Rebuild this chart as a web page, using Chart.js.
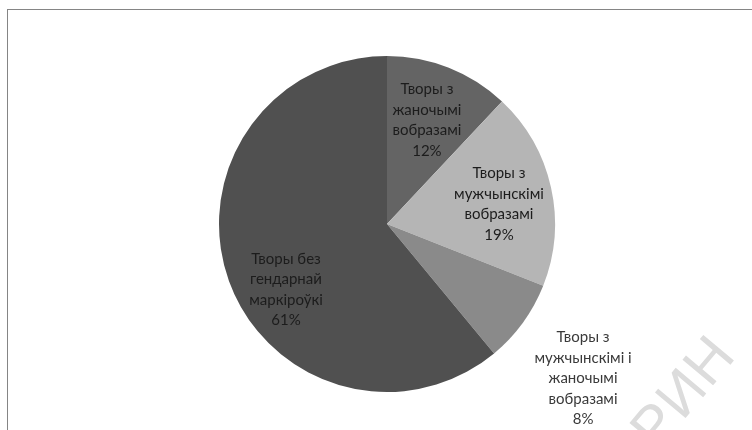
<!DOCTYPE html>
<html>
<head>
<meta charset="utf-8">
<script src="https://cdn.jsdelivr.net/npm/chart.js@4.4.0/dist/chart.umd.min.js"></script>
<style>
  html, body { margin: 0; padding: 0; background: #fff; }
  #wrap { position: relative; width: 752px; height: 430px; overflow: hidden; }
  #frame { position: absolute; left: 7px; top: 9px; width: 800px; height: 500px;
           border-top: 1px solid #858585; border-left: 1px solid #858585; }
  #wm { position: absolute; left: 664px; top: 400px; font-family: "Liberation Sans", sans-serif;
        font-weight: normal; font-size: 58px; line-height: 58px; color: #dcdcdc; transform: rotate(-50deg);
        transform-origin: left bottom; letter-spacing: 1px; white-space: nowrap; }
  canvas { position: absolute; left: 0; top: 0; }
</style>
</head>
<body>
<div id="wrap">
  <div id="frame"></div>
  <div id="wm">РИН</div>
  <canvas id="c" width="752" height="430"></canvas>
</div>
<script>
const categories = [
  ["Творы з", "жаночымі", "вобразамі"],
  ["Творы з", "мужчынскімі", "вобразамі"],
  ["Творы з", "мужчынскімі і", "жаночымі", "вобразамі"],
  ["Творы без", "гендарнай", "маркіроўкі"]
];
const values = [12, 19, 8, 61];
const percentLabels = ["12%", "19%", "8%", "61%"];
const colors = ["#646464", "#b5b5b5", "#8a8a8a", "#505050"];

// label placement (radius fraction, angle offset in degrees)
const labelPlace = [
  { f: 0.663, off: -0.6 },
  { f: 0.677, off: 2.5 },
  { f: 1.485, off: 2.2 },
  { f: 0.717, off: -13.2 }
];

const labelPlugin = {
  id: 'sliceLabels',
  afterDatasetsDraw(chart) {
    const ctx = chart.ctx;
    const meta = chart.getDatasetMeta(0);
    ctx.save();
    ctx.font = '15px Lato, "Open Sans", sans-serif';
    ctx.textAlign = 'center';
    ctx.textBaseline = 'middle';
    const lh = 20.5;
    meta.data.forEach((arc, i) => {
      const p = arc.getProps(['x', 'y', 'startAngle', 'endAngle', 'outerRadius'], true);
      const mid = (p.startAngle + p.endAngle) / 2 + labelPlace[i].off * Math.PI / 180;
      const r = p.outerRadius * labelPlace[i].f;
      const cx = p.x + Math.cos(mid) * r;
      const cy = p.y + Math.sin(mid) * r;
      const lines = categories[i].concat([percentLabels[i]]);
      const top = cy - (lines.length - 1) * lh / 2;
      ctx.fillStyle = labelPlace[i].f > 1 ? '#3a3a3a' : '#1c1c1c';
      lines.forEach((t, k) => ctx.fillText(t, cx, top + k * lh));
    });
    ctx.restore();
  }
};

new Chart(document.getElementById('c'), {
  type: 'pie',
  data: {
    labels: categories,
    datasets: [{
      data: values,
      backgroundColor: colors,
      borderWidth: 0
    }]
  },
  options: {
    responsive: false,
    animation: false,
    layout: { padding: { top: 56, bottom: 38, left: 22, right: 0 } },
    plugins: { legend: { display: false }, tooltip: { enabled: false } }
  },
  plugins: [labelPlugin]
});
</script>
</body>
</html>
